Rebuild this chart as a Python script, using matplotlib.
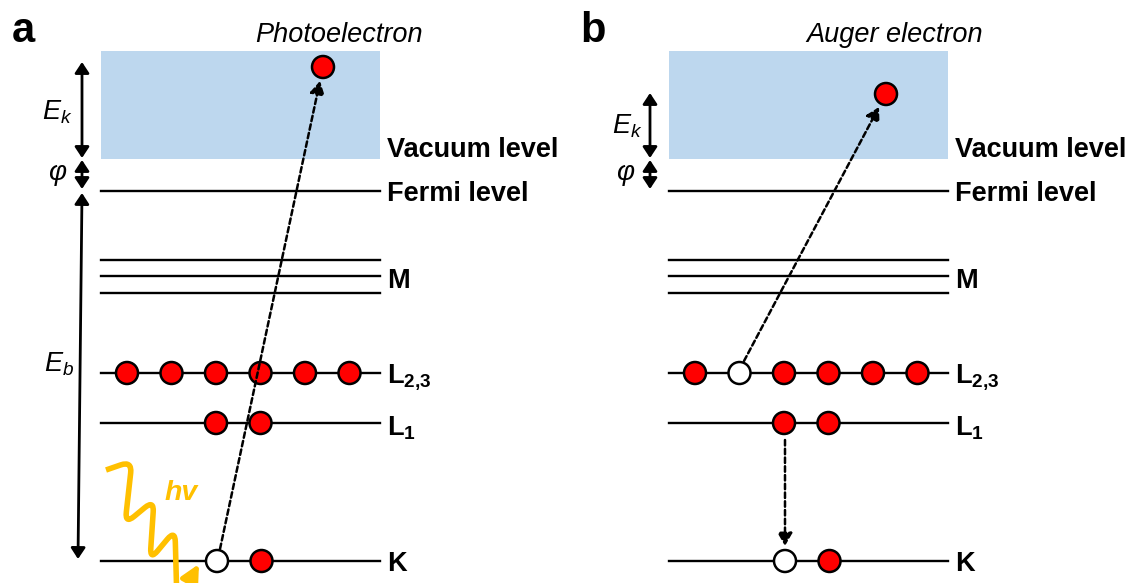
import matplotlib
matplotlib.use("Agg")
import numpy as np
import matplotlib.pyplot as plt
from matplotlib.patches import Rectangle, Circle, FancyArrowPatch, PathPatch
from matplotlib.path import Path

plt.rcParams["font.family"] = "Liberation Sans"
plt.rcParams["mathtext.fontset"] = "custom"
plt.rcParams["mathtext.rm"] = "Liberation Sans"
plt.rcParams["mathtext.it"] = "Liberation Sans:italic"
plt.rcParams["mathtext.bf"] = "Liberation Sans:bold"

# energy levels (pixel rows of the diagram, top = 0)
LEVEL_NAMES = ["Vacuum level", "Fermi level", "M", r"$\mathbf{L}_{\mathbf{2{,}3}}$",
               r"$\mathbf{L}_{\mathbf{1}}$", "K"]
VACUUM_Y = 159
FERMI_Y = 191
M_Y = [260, 276, 293]
L23_Y = 373
L1_Y = 423
K_Y = 561
LABEL_Y = [157, 201, 288, 383, 436, 571]

# electron slots along a level
SLOT_X = [127, 171.5, 216, 260.5, 305, 349.5]
PANEL_SHIFT = 568

# occupancy per panel: 1 = electron, 0 = hole
PHOTO_L23 = [1, 1, 1, 1, 1, 1]
PHOTO_L1 = {2: 1, 3: 1}
PHOTO_K = {2: 0, 3: 1}
AUGER_L23 = [1, 0, 1, 1, 1, 1]
AUGER_L1 = {2: 1, 3: 1}
AUGER_K = {2: 0, 3: 1}

# emitted electrons above vacuum level
PHOTO_FREE = (323, 67)
AUGER_FREE = (886, 94)

# turning points of the photon squiggle, last one is the arrow tip
WAVE = [(106, 470), (132, 461), (125, 524), (154, 500), (150, 560),
        (175, 530), (177, 604), (199, 564)]

RED = "#FF0000"
BLUE = "#BDD7EE"
ORANGE = "#FFC000"
FS = 19.5

fig = plt.figure(figsize=(11.29, 5.83), dpi=100)
ax = fig.add_axes([0, 0, 1, 1])
ax.set_xlim(0, 1129)
ax.set_ylim(583, 0)
ax.axis("off")


def electron(x, y, filled=True):
    ax.add_patch(Circle((x, y), 11, facecolor=RED if filled else "white",
                        edgecolor="black", lw=1.8, zorder=4))


def double_arrow(x0, y0, x1, y1):
    ax.add_patch(FancyArrowPatch((x0, y0), (x1, y1),
                                 arrowstyle="<|-|>,head_length=0.5,head_width=0.33",
                                 mutation_scale=13, lw=2.0, color="black",
                                 shrinkA=0, shrinkB=0, zorder=3))


def dashed_arrow(x0, y0, x1, y1):
    ax.add_patch(FancyArrowPatch((x0, y0), (x1, y1),
                                 arrowstyle="-|>,head_length=0.7,head_width=0.4",
                                 mutation_scale=11, lw=1.8, color="black",
                                 linestyle=(0, (2.2, 1.3)),
                                 shrinkA=0, shrinkB=0, zorder=5))


def rounded_path(pts, r=14):
    # straight runs joined by rounded corners
    pts = np.asarray(pts, float)
    verts, codes = [pts[0]], [Path.MOVETO]
    for p, c, n in zip(pts[:-2], pts[1:-1], pts[2:]):
        a = c + r * (p - c) / np.hypot(*(p - c))
        b = c + r * (n - c) / np.hypot(*(n - c))
        verts += [a, c, b]
        codes += [Path.LINETO, Path.CURVE3, Path.CURVE3]
    return Path(verts, codes), verts[-1]


def panel(dx, l23, l1, k):
    x0, x1 = 101 + dx, 380 + dx
    ax.add_patch(Rectangle((x0, 51), x1 - x0, VACUUM_Y - 51,
                           facecolor=BLUE, edgecolor="none", zorder=0))
    for y in [FERMI_Y] + M_Y + [L23_Y, L1_Y, K_Y]:
        ax.plot([x0, x1], [y, y], color="black", lw=1.7, zorder=2)
    for name, yb in zip(LEVEL_NAMES, LABEL_Y):
        ax.text(387 + dx, yb, name, fontsize=FS, fontweight="bold",
                ha="left", va="baseline")
    for i, occ in enumerate(l23):
        electron(SLOT_X[i] + dx, L23_Y, occ)
    for i, occ in l1.items():
        electron(SLOT_X[i] + dx, L1_Y, occ)
    for i, occ in k.items():
        electron(SLOT_X[i] + dx + 1, K_Y, occ)


panel(0, PHOTO_L23, PHOTO_L1, PHOTO_K)
panel(PANEL_SHIFT, AUGER_L23, AUGER_L1, AUGER_K)

# panel letters and titles
ax.text(12, 42, "a", fontsize=30, fontweight="bold", va="baseline")
ax.text(580, 42, "b", fontsize=30, fontweight="bold", va="baseline")
ax.text(338.5, 42, "Photoelectron", fontsize=FS, style="italic",
        ha="center", va="baseline")
ax.text(894.5, 42, "Auger electron", fontsize=FS, style="italic",
        ha="center", va="baseline")

# free electrons
electron(*PHOTO_FREE)
electron(*AUGER_FREE)

# energy scale arrows, panel a
double_arrow(82, 62, 82, 158)
double_arrow(82, 160, 82, 189)
double_arrow(82, 193, 78, 559)
ax.text(57, 112, "$E_k$", fontsize=FS, ha="center", va="center")
ax.text(57, 173, "φ", fontsize=20, style="italic", ha="center", va="center")
ax.text(59, 364, "$E_b$", fontsize=FS, ha="center", va="center")

# energy scale arrows, panel b
double_arrow(650, 93, 650, 158)
double_arrow(650, 160, 650, 189)
ax.text(627, 126, "$E_k$", fontsize=FS, ha="center", va="center")
ax.text(625, 173, "φ", fontsize=20, style="italic", ha="center", va="center")

# transitions
dashed_arrow(220, 549, 320, 81)
dashed_arrow(744, 361, 879, 107)
dashed_arrow(785, 440, 785, 546)

# incoming photon
wave, last = rounded_path(WAVE, r=12)
ax.add_patch(PathPatch(wave, facecolor="none", edgecolor=ORANGE,
                       lw=4.0, joinstyle="round", zorder=6))
ax.add_patch(FancyArrowPatch(last, WAVE[-1],
                             arrowstyle="-|>,head_length=0.9,head_width=0.45",
                             mutation_scale=12, lw=3.6, color=ORANGE,
                             shrinkA=0, shrinkB=0, zorder=6))
ax.text(181, 500, "hv", fontsize=20.5, fontweight="bold", style="italic",
        color=ORANGE, ha="center", va="baseline")

fig.savefig("out.png", dpi=100)
